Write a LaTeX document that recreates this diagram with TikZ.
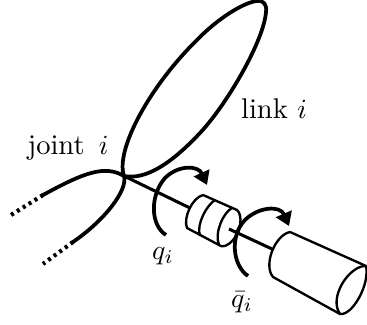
\documentclass[tikz,border=0pt]{standalone}
\usepackage{amsmath,amssymb}
\usetikzlibrary{arrows.meta,positioning,calc}
\tikzset{
  limb/.style={line width=1.35pt,line cap=round},
  body/.style={line width=0.85pt,line join=round},
  spin/.style={line width=1.35pt,-{Triangle[length=4.8pt,width=6pt]}},
  dots/.style={line width=1.5pt,dash pattern=on 1.1pt off 1.4pt},
  every node/.style={font=\fontsize{10.3}{12}\selectfont},
}
\begin{document}
\begin{tikzpicture}[x=0.0127cm,y=-0.0127cm]
\useasboundingbox (0,0) rectangle (367,325);
\coordinate (joint) at (124,176);
% link
\draw[limb] (joint) .. controls (115,150) and (150,85) .. (200,37)
  .. controls (220,17) and (245,2) .. (257,1)
  .. controls (264,0) and (267,5) .. (266,12)
  .. controls (264,40) and (228,103) .. (200,133)
  .. controls (170,165) and (145,180) .. (joint);
% legs
\coordinate (upperend) at (43,195);
\coordinate (lowerend) at (73,242);
\draw[limb] (joint) .. controls (105,165) and (85,172) .. (upperend);
\draw[limb] (joint) .. controls (128,190) and (105,220) .. (lowerend);
\draw[dots] (upperend) -- (11,215);
\draw[dots] (lowerend) -- (43,264);
% shaft
\coordinate (gearin) at (190,208);
\coordinate (gearout) at (229,229);
\coordinate (motorin) at (272,249);
\draw[body,line width=1.1pt] (joint) -- (gearin);
\draw[body,line width=1.1pt] (gearout) -- (motorin);
% gear
\draw[body] (203,195) -- (237,210) .. controls (243,215) and (241,232) .. (233,240)
  .. controls (228,246) and (222,248) .. (219,245) -- (187,228)
  .. controls (183,218) and (192,198) .. (203,195);
\draw[body] (232,208) .. controls (224,212) and (214,232) .. (219,245);
\draw[body] (215,200) .. controls (207,205) and (196,224) .. (200,236);
% motor
\draw[body] (290,232) -- (366,266) .. controls (370,285) and (352,316) .. (340,314)
  -- (273,277) .. controls (263,265) and (275,235) .. (290,232);
\draw[body] (366,266) .. controls (350,265) and (328,297) .. (340,314);
% arrows
\draw[spin] (166,235) .. controls (150,225) and (150,195) .. (165,178)
  .. controls (178,165) and (198,165) .. (207,185);
\draw[spin] (248,276) .. controls (232,265) and (230,235) .. (245,220)
  .. controls (258,207) and (280,205) .. (289,226);
% labels
\node (jointlabel) at (68,148) {joint\, $i$};
\node (linklabel) at (274,109) {link $i$};
\node (qlabel) at (163,256) {$q_i$};
\node (qbarlabel) at (242,302) {$\bar{q}_i$};
\end{tikzpicture}
\end{document}
